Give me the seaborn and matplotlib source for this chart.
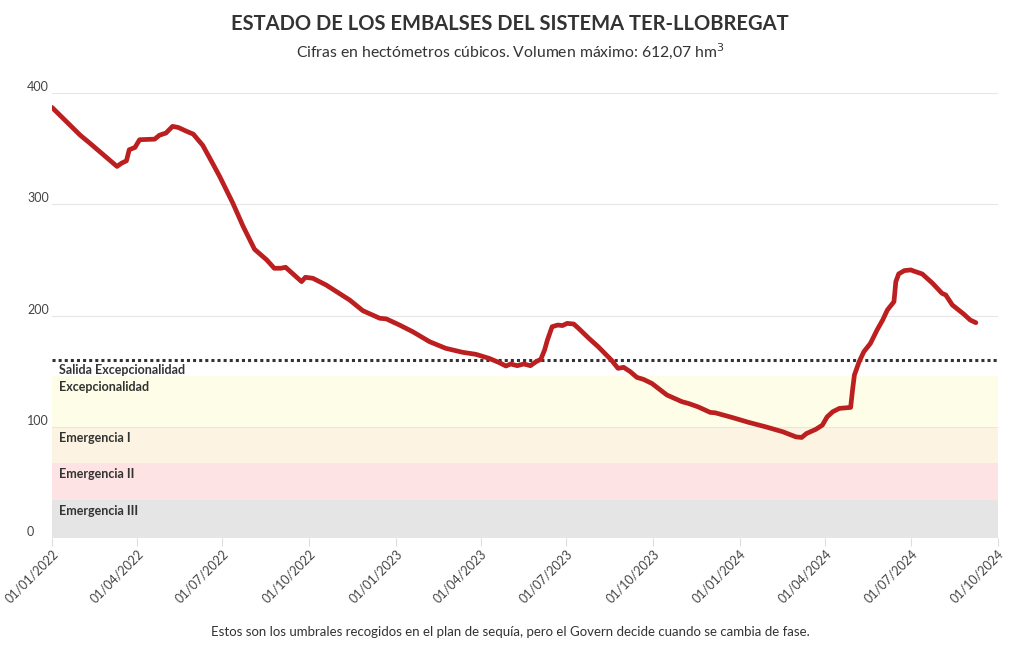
import pandas as pd
import matplotlib.pyplot as plt
import matplotlib.dates as mdates
import matplotlib.transforms as mtransforms
import seaborn as sns

# volumen embalsado (hm3)
fechas = ['2022-01-01', '2022-01-31', '2022-02-10', '2022-03-11', '2022-03-16', '2022-03-21',
          '2022-03-24', '2022-03-30', '2022-04-04', '2022-04-20', '2022-04-25', '2022-05-02',
          '2022-05-09', '2022-05-15', '2022-05-24', '2022-05-31', '2022-06-10', '2022-06-21',
          '2022-06-28', '2022-07-12', '2022-07-23', '2022-08-04', '2022-08-17', '2022-08-25',
          '2022-09-01', '2022-09-06', '2022-09-23', '2022-09-27', '2022-10-05', '2022-10-19',
          '2022-11-13', '2022-11-27', '2022-12-15', '2022-12-22', '2023-01-05', '2023-01-19',
          '2023-02-06', '2023-02-23', '2023-03-13', '2023-03-27', '2023-04-10', '2023-04-21',
          '2023-04-28', '2023-05-03', '2023-05-10', '2023-05-17', '2023-05-24', '2023-05-30',
          '2023-06-04', '2023-06-08', '2023-06-11', '2023-06-16', '2023-06-22', '2023-06-27',
          '2023-07-02', '2023-07-09', '2023-07-14', '2023-07-25', '2023-08-04', '2023-08-18',
          '2023-08-25', '2023-08-31', '2023-09-07', '2023-09-14', '2023-09-21', '2023-09-30',
          '2023-10-16', '2023-11-01', '2023-11-08', '2023-11-18', '2023-12-01', '2023-12-06',
          '2023-12-24', '2024-01-11', '2024-01-29', '2024-02-16', '2024-03-01', '2024-03-07',
          '2024-03-12', '2024-03-22', '2024-03-29', '2024-04-03', '2024-04-09', '2024-04-16',
          '2024-04-28', '2024-04-30', '2024-05-02', '2024-05-07', '2024-05-12', '2024-05-19',
          '2024-05-26', '2024-06-01', '2024-06-06', '2024-06-13', '2024-06-15', '2024-06-18',
          '2024-06-24', '2024-07-01', '2024-07-04', '2024-07-13', '2024-07-24', '2024-08-03',
          '2024-08-07', '2024-08-14', '2024-08-26', '2024-09-02', '2024-09-08']
volumen = [387, 362, 355, 334, 337, 339,
           349, 351, 358, 358.5, 362, 364,
           370, 369, 365.5, 363, 353, 336,
           325, 301, 280, 259.6, 250, 242.5,
           242.5, 243.4, 230.5, 234.4, 233.5, 227.5,
           214, 204.4, 197.6, 197, 191.5, 185.5,
           176.5, 170.6, 167, 165.2, 161.6, 157.7,
           154.7, 156.5, 155, 156.5, 155, 158.6,
           160.7, 169, 178, 190, 191.5, 191,
           193, 192.4, 188.6, 179.6, 172, 160,
           152.6, 153.5, 149.6, 144.5, 142.7, 139,
           128.6, 122.6, 121, 118, 113, 112.7,
           108.5, 104, 100, 95.6, 91, 90.5,
           94, 97.8, 101.6, 109, 113.6, 116.6,
           117.5, 133, 146.6, 158.5, 167.5, 175,
           187, 196, 205, 212.5, 230.5, 237.4,
           240.4, 241, 240, 237.4, 229, 220,
           218.5, 209.5, 201.4, 196, 193.6]

# umbrales del plan de sequía (hm3)
fases = ['Emergencia III', 'Emergencia II', 'Emergencia I', 'Excepcionalidad']
fase_min = [0, 34, 68, 100]
fase_max = [34, 68, 100, 146]
fase_colores = ['#e5e5e5', '#fde3e3', '#fdf3e3', '#fefee8']
salida_excepcionalidad = 160

df = pd.DataFrame({'fecha': pd.to_datetime(fechas), 'hm3': volumen})

sns.set_theme(style='white')
plt.rcParams['font.family'] = ['Lato', 'DejaVu Sans']

fig = plt.figure(figsize=(10.2, 6.5), dpi=100)
ax = fig.add_axes([0.051, 0.172, 0.927, 0.685])

for nombre, y0, y1, c in zip(fases, fase_min, fase_max, fase_colores):
    ax.axhspan(y0, y1, color=c, lw=0, zorder=0)
ax.axhline(salida_excepcionalidad, color='#333333', ls=(0, (1, 1)), lw=2.2, zorder=1)

trans = mtransforms.blended_transform_factory(ax.transAxes, ax.transData)
etiq_style = dict(transform=trans, fontsize=9, fontweight='bold', color='#333333',
                  va='center', ha='left')
ax.text(0.007, salida_excepcionalidad - 9, 'Salida Excepcionalidad', **etiq_style)
for nombre, y1 in zip(fases, fase_max):
    ax.text(0.007, y1 - 10, nombre, **etiq_style)

sns.lineplot(data=df, x='fecha', y='hm3', ax=ax, color='#bc1f1f', lw=3.4, zorder=3)

ax.set_xlim(pd.Timestamp('2022-01-01'), pd.Timestamp('2024-10-01'))
ax.set_ylim(0, 400)
ax.set_yticks([0, 100, 200, 300, 400])
ax.yaxis.grid(True, color='#e6e6e6', lw=0.8)
ax.set_axisbelow(True)
for s in ax.spines.values():
    s.set_visible(False)

ax.xaxis.set_major_locator(mdates.MonthLocator(bymonth=[1, 4, 7, 10]))
ax.xaxis.set_major_formatter(mdates.DateFormatter('%d/%m/%Y'))
ax.tick_params(axis='x', length=6, color='#dddddd', width=0.8, bottom=True,
               labelsize=9, labelcolor='#444444', pad=1)
ax.tick_params(axis='y', length=0, labelsize=9, labelcolor='#444444', pad=18)
for lab in ax.get_xticklabels():
    lab.set_rotation(45)
    lab.set_ha('right')
    lab.set_rotation_mode('anchor')
for lab in ax.get_yticklabels():
    lab.set_ha('left')
    lab.set_va('bottom')
ax.set_xlabel('')
ax.set_ylabel('')

fig.text(0.5, 0.963, 'ESTADO DE LOS EMBALSES DEL SISTEMA TER-LLOBREGAT', ha='center', va='center',
         fontsize=14.5, fontweight='bold', color='#333333')
fig.text(0.5, 0.921, 'Cifras en hectómetros cúbicos. Volumen máximo: 612,07 hm$^3$', ha='center',
         va='center', fontsize=11.3, color='#333333')
fig.text(0.5, 0.028, 'Estos son los umbrales recogidos en el plan de sequía, pero el Govern decide '
         'cuando se cambia de fase.', ha='center', va='center', fontsize=9.5, color='#333333')

fig.savefig('out.png', dpi=100)
